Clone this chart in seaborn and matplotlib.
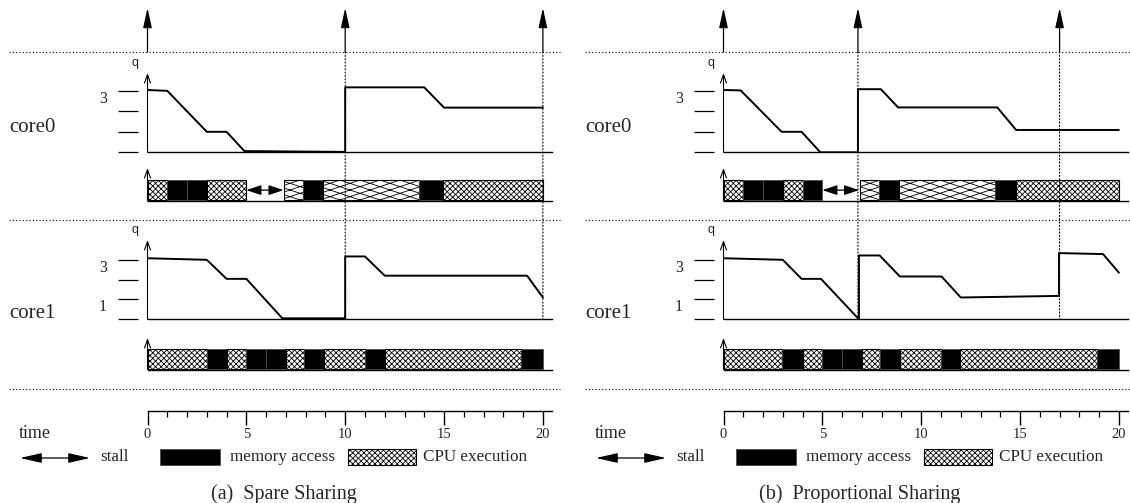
import numpy as np
import matplotlib
matplotlib.use("Agg")
import matplotlib.pyplot as plt
import matplotlib.hatch as mhatch
from matplotlib.path import Path
from matplotlib.patches import Rectangle, ConnectionPatch
import seaborn as sns

# ---------------- data ----------------
time_major = [0, 5, 10, 15, 20]
time_minor = list(range(0, 21))

# (a) Spare Sharing
releases_a = [0, 10, 20]
q0_a_t = [0, 1, 3, 4, 4.9, 10, 10, 14, 15, 20]
q0_a_v = [3.04, 3.0, 1.0, 1.0, 0.06, 0.02, 3.17, 3.17, 2.18, 2.18]
q1_a_t = [0, 3, 4, 5, 6.82, 10, 10, 11, 12, 19.2, 20]
q1_a_v = [3.08, 3.0, 2.04, 2.04, 0.05, 0.05, 3.17, 3.17, 2.2, 2.2, 1.1]
bar0_a_start = [0, 1, 2, 3, 6.88, 7.88, 8.88, 13.72, 14.95]
bar0_a_end = [1, 2, 3, 5, 7.88, 8.88, 13.72, 14.95, 20]
bar0_a_kind = ["cpu", "mem", "mem", "cpu", "slow", "mem", "slow", "mem", "cpu"]
stall0_a = (5, 6.88)
bar1_a_start = [0, 3, 4, 5, 6, 7, 7.9, 8.95, 11, 12, 18.9]
bar1_a_end = [3, 4, 5, 6, 7, 7.9, 8.95, 11, 12, 18.9, 20]
bar1_a_kind = ["cpu", "mem", "cpu", "mem", "mem", "cpu", "mem", "cpu", "mem", "cpu", "mem"]

# (b) Proportional Sharing
releases_b = [0, 6.8, 17]
q0_b_t = [0, 0.87, 2.94, 3.95, 4.9, 6.8, 6.8, 7.96, 8.83, 13.85, 14.8, 20]
q0_b_v = [3.04, 3.02, 1.0, 1.0, 0.0, 0.0, 3.08, 3.08, 2.19, 2.19, 1.09, 1.09]
q1_b_t = [0, 3, 3.95, 4.93, 6.85, 6.85, 7.9, 8.92, 11.03, 12.0, 16.97, 16.97, 19.2, 20]
q1_b_v = [3.08, 3.0, 2.04, 2.04, 0.0, 3.22, 3.22, 2.16, 2.16, 1.1, 1.18, 3.34, 3.29, 2.35]
bar0_b_start = [0, 1, 2, 3, 4, 6.88, 7.88, 8.9, 13.73, 14.82]
bar0_b_end = [1, 2, 3, 4, 5, 7.88, 8.9, 13.73, 14.82, 20]
bar0_b_kind = ["cpu", "mem", "mem", "cpu", "mem", "slow", "mem", "slow", "mem", "cpu"]
stall0_b = (5, 6.86)
bar1_b_start = [0, 2.95, 4, 4.96, 6, 7.03, 7.94, 8.95, 10.98, 11.98, 18.88]
bar1_b_end = [2.95, 4, 4.96, 6, 7.03, 7.94, 8.95, 10.98, 11.98, 18.88, 20]
bar1_b_kind = ["cpu", "mem", "cpu", "mem", "mem", "cpu", "mem", "cpu", "mem", "cpu", "mem"]

captions = ["(a)  Spare Sharing", "(b)  Proportional Sharing"]
core_names = ["core0", "core1"]
q_labels0 = ["", "", "", "3"]
q_labels1 = ["", "1", "", "3"]
legend_texts = ["stall", "memory access", "CPU execution"]

# ---------------- style ----------------
sns.set_theme(style="white")
plt.rcParams["font.family"] = ["Liberation Serif", "DejaVu Serif"]
plt.rcParams["hatch.linewidth"] = 0.6
plt.rcParams["axes.linewidth"] = 1.0

CPU_HATCH = "xxxxxx"
SLOW_HATCH = "O"


class StretchedHatch(mhatch.HatchPatternBase):
    """horizontally stretched cross hatch, used for slowed CPU execution"""

    def __init__(self, hatch, density):
        k = hatch.count("O")
        self.rows = 15 * k
        self.rise = 5 * k
        self.num_lines = (self.rows + self.rise) if k else 0
        self.num_vertices = self.num_lines * 4

    def set_vertices_and_codes(self, vertices, codes):
        n = self.num_lines
        a = np.arange(-self.rise, self.rows) / self.rows
        s = self.rise / self.rows
        vertices[0:2 * n:2, 0] = 0
        vertices[0:2 * n:2, 1] = a
        vertices[1:2 * n:2, 0] = 1
        vertices[1:2 * n:2, 1] = a + s
        vertices[2 * n::2, 0] = 0
        vertices[2 * n::2, 1] = a + s
        vertices[2 * n + 1::2, 0] = 1
        vertices[2 * n + 1::2, 1] = a
        codes[0::2] = Path.MOVETO
        codes[1::2] = Path.LINETO


mhatch._hatch_types[mhatch._hatch_types.index(mhatch.LargeCircles)] = StretchedHatch

W, H = 1130, 503
fig = plt.figure(figsize=(W / 100, H / 100), dpi=100)

ov = fig.add_axes([0, 0, 1, 1])
ov.set_xlim(0, W)
ov.set_ylim(H, 0)
ov.axis("off")

X0 = 147.5
PXU = 19.77
T_MAX = 20.45
SHIFT = 576
DOT = (0, (1, 2))


def add_ax(xl, yt, yb, xr):
    return fig.add_axes([xl / W, 1 - yb / H, (xr - xl) / W, (yb - yt) / H])


def axis_arrow(ax):
    ax.annotate("", xy=(0, 1), xycoords=("data", "axes fraction"),
                xytext=(0, 0), textcoords=("data", "axes fraction"),
                arrowprops=dict(arrowstyle="->,head_length=0.5,head_width=0.18",
                                lw=0.8, color="black", shrinkA=0, shrinkB=0),
                annotation_clip=False)


def clean(ax):
    ax.set_xlim(0, T_MAX)
    for s in ["top", "right", "left"]:
        ax.spines[s].set_visible(False)
    ax.spines["bottom"].set_color("black")
    ax.patch.set_alpha(0)
    ax.set_xlabel("")
    ax.set_ylabel("")


def draw_q(ax, t, v, top, labels):
    sns.lineplot(x=t, y=v, ax=ax, color="black", lw=1.4, estimator=None,
                 sort=False, legend=False)
    clean(ax)
    ax.set_ylim(0, top)
    ax.spines["left"].set_position(("outward", 7.2))
    ax.set_yticks([0, 1, 2, 3])
    ax.set_yticklabels(labels)
    ax.tick_params(axis="y", left=True, length=14.1, width=0.9, pad=7.8,
                   labelsize=11.5, color="black")
    for lb in ax.get_yticklabels():
        lb.set_va("top")
    ax.tick_params(axis="x", bottom=False, labelbottom=False)
    axis_arrow(ax)
    ax.annotate("q", xy=(0, 1), xycoords=("data", "axes fraction"),
                xytext=(-12, 10), textcoords="offset pixels", ha="center",
                va="center", fontsize=9, family=["Liberation Sans", "DejaVu Sans"],
                annotation_clip=False)


def draw_bars(ax, starts, ends, kinds, stall=None):
    clean(ax)
    ax.set_ylim(0, 1)
    ax.set_yticks([])
    ax.tick_params(axis="x", bottom=False, labelbottom=False)
    for s, e, k in zip(starts, ends, kinds):
        if k == "mem":
            ax.barh(0.03, e - s, left=s, height=0.61, align="edge",
                    color="black", edgecolor="0.3", lw=0.6)
        elif k == "cpu":
            ax.barh(0.03, e - s, left=s, height=0.61, align="edge",
                    color="white", edgecolor="black", lw=0.8, hatch=CPU_HATCH)
        else:
            ax.barh(0.03, e - s, left=s, height=0.61, align="edge",
                    color="white", edgecolor="black", lw=0.8, hatch=SLOW_HATCH)
    if stall is not None:
        ax.annotate("", xy=(stall[1], 0.33), xytext=(stall[0], 0.33),
                    arrowprops=dict(arrowstyle="<|-|>,head_length=0.75,head_width=0.25",
                                    lw=0.9, color="black", shrinkA=0, shrinkB=0),
                    annotation_clip=False)
    axis_arrow(ax)


panels = [
    dict(rel=releases_a, q0=(q0_a_t, q0_a_v), q1=(q1_a_t, q1_a_v),
         b0=(bar0_a_start, bar0_a_end, bar0_a_kind), st=stall0_a,
         b1=(bar1_a_start, bar1_a_end, bar1_a_kind)),
    dict(rel=releases_b, q0=(q0_b_t, q0_b_v), q1=(q1_b_t, q1_b_v),
         b0=(bar0_b_start, bar0_b_end, bar0_b_kind), st=stall0_b,
         b1=(bar1_b_start, bar1_b_end, bar1_b_kind)),
]

for i, p in enumerate(panels):
    dx = SHIFT * i
    xl = X0 + dx
    xr = xl + T_MAX * PXU

    # release arrows
    ax_r = add_ax(xl, 8, 52, xr)
    ax_r.set_xlim(0, T_MAX)
    ax_r.set_ylim(0, 1)
    ax_r.axis("off")
    for t in p["rel"]:
        ax_r.annotate("", xy=(t, 1), xytext=(t, 0),
                      arrowprops=dict(arrowstyle="-|>,head_length=1.0,head_width=0.22",
                                      lw=0.9, color="black", shrinkA=0, shrinkB=0),
                      annotation_clip=False)

    ax_q0 = add_ax(xl, 73, 152.3, xr)
    draw_q(ax_q0, p["q0"][0], p["q0"][1], 3.87, q_labels0)
    ax_b0 = add_ax(xl, 168, 201, xr)
    draw_bars(ax_b0, *p["b0"], stall=p["st"])
    ax_q1 = add_ax(xl, 240, 319.3, xr)
    draw_q(ax_q1, p["q1"][0], p["q1"][1], 4.0, q_labels1)
    ax_b1 = add_ax(xl, 338, 369.5, xr)
    draw_bars(ax_b1, *p["b1"])

    # time axis
    ax_t = add_ax(xl, 395, 410.7, xr)
    clean(ax_t)
    ax_t.set_ylim(0, 1)
    ax_t.set_yticks([])
    ax_t.set_xticks(time_major)
    ax_t.set_xticks(time_minor, minor=True)
    ax_t.set_xticklabels([str(v) for v in time_major])
    ax_t.tick_params(axis="x", which="major", bottom=True, direction="out",
                     length=10.3, width=1.0, pad=2, labelsize=10.5, color="black")
    ax_t.tick_params(axis="x", which="minor", bottom=True, direction="out",
                     length=4.3, width=0.9, color="black")

    # vertical dotted release lines
    for t in p["rel"][1:]:
        con = ConnectionPatch(xyA=(t, 0), coordsA=ax_r.transData,
                              xyB=(t, 0), coordsB=ax_q1.transData,
                              linestyle=DOT, lw=0.8, color="black")
        fig.add_artist(con)

    # horizontal dotted separators
    x_a = 9 + dx
    x_b = min(560 + dx, W)
    for yy in [52, 220, 389]:
        ov.plot([x_a, x_b], [yy, yy], ls=DOT, lw=0.8, color="black")

    ov.text(9 + dx, 127, core_names[0], va="center", ha="left", fontsize=15)
    ov.text(9 + dx, 313, core_names[1], va="center", ha="left", fontsize=15)
    ov.text(19 + dx, 433, "time", va="center", ha="left", fontsize=13)

    # legend
    ov.annotate("", xy=(90 + dx, 458), xytext=(20 + dx, 458),
                arrowprops=dict(arrowstyle="<|-|>,head_length=1.1,head_width=0.25",
                                lw=0.9, color="black", shrinkA=0, shrinkB=0))
    ov.text(100 + dx, 457, legend_texts[0], va="center", ha="left", fontsize=12.3)
    ov.add_patch(Rectangle((160 + dx, 449), 60, 16, facecolor="black",
                           edgecolor="0.3", lw=0.6))
    ov.text(230 + dx, 457, legend_texts[1], va="center", ha="left", fontsize=12.3)
    ov.add_patch(Rectangle((348 + dx, 449), 68, 16, facecolor="white",
                           edgecolor="black", lw=0.8, hatch=CPU_HATCH))
    ov.text(423 + dx, 457, legend_texts[2], va="center", ha="left", fontsize=12.3)

    ov.text(284 + dx, 494, captions[i], va="center", ha="center", fontsize=14.5)

fig.savefig("out.png", dpi=100)
